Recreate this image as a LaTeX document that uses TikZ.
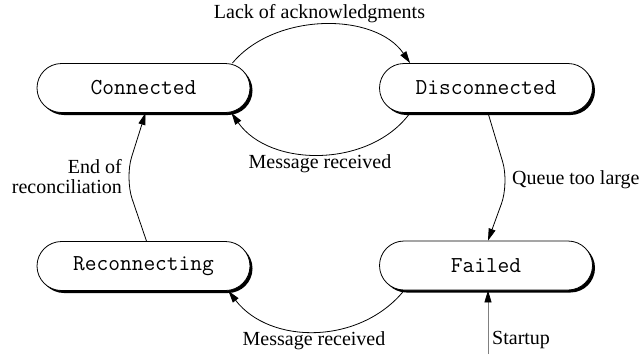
\documentclass[tikz,border=0pt]{standalone}
\usepackage{fontspec}
\setmainfont{Liberation Serif}
\usetikzlibrary{arrows.meta,shadows}
\begin{document}
\begin{tikzpicture}[x=1pt,y=-1pt,
  state/.style={draw, line width=0.8pt, fill=white, rounded corners=24.5pt,
    minimum width=213pt, minimum height=49pt, inner sep=0pt,
    font=\ttfamily\fontsize{22.8}{22.8}\selectfont,
    drop shadow={shadow xshift=2.5pt, shadow yshift=-2.5pt, fill=black, opacity=1}},
  lbl/.style={inner sep=0pt, font=\fontsize{20}{20}\selectfont},
  arr/.style={line width=0.8pt, -{Triangle[length=12pt,width=7pt]}}]
\useasboundingbox (0,0) rectangle (640,354);
\node[state] (con) at (143.5,88) {Connected};
\node[state] (dis) at (486,88) {Disconnected};
\node[state] (rec) at (143.5,266) {Reconnecting};
\node[state] (fail) at (486,265.5) {Failed};
% Lack of acknowledgments
\draw[arr] ([xshift=-18pt]con.north east) .. controls (275,12) and (375,12) .. ([xshift=31pt]dis.north west);
\node[lbl, anchor=base] (l1) at (319.5,18) {Lack of acknowledgments};
% Message received (upper)
\draw[arr] ([xshift=31pt]dis.south west) .. controls (370,168) and (270,168) .. ([xshift=-19pt]con.south east);
\node[lbl, anchor=base] (l2) at (320,168) {Message received};
% Queue too large
\draw[arr, rounded corners=22pt] ([xshift=2pt]dis.south) -- (509,183) -- ([xshift=2pt]fail.north);
\node[lbl, anchor=base west] (l3) at (512,184) {Queue too large};
% Message received (lower)
\draw[arr] ([xshift=25pt]fail.south west) .. controls (360,345) and (270,345) .. ([xshift=-22pt]rec.south east);
\node[lbl, anchor=base] (l4) at (314,345) {Message received};
% End of reconciliation
\draw[arr, rounded corners=22pt] ([xshift=3pt]rec.north) -- (125,178) -- ([xshift=2pt]con.south);
\node[lbl, anchor=base east] (l5a) at (122,173) {End of};
\node[lbl, anchor=base east] (l5b) at (122,193) {reconciliation};
% Startup
\coordinate (st) at (488,354);
\draw[line width=0.8pt, gray, -{Triangle[length=12pt,width=7pt,fill=black,color=black]}] (st) -- ([xshift=2pt]fail.south);
\node[lbl, anchor=base west] (l6) at (492,344) {Startup};
\end{tikzpicture}
\end{document}
